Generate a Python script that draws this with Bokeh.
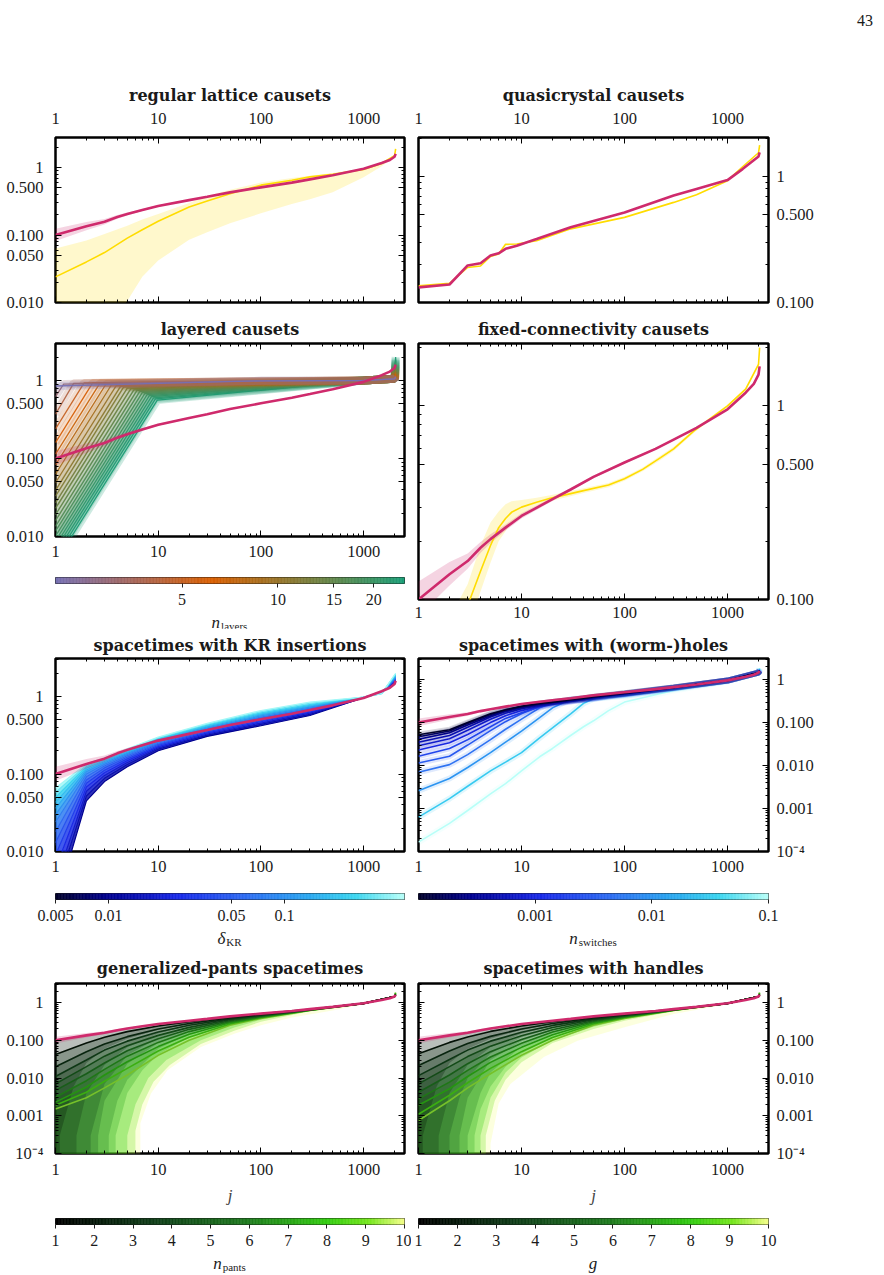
import math
import numpy as np
from bokeh.plotting import figure
from bokeh.models import Range1d, LogAxis, FixedTicker, Div, Spacer
from bokeh.layouts import row, column
from bokeh.embed import file_html
from bokeh.resources import INLINE

FONT = "Liberation Serif"
TITLE_FONT = "DejaVu Serif"
MAGENTA = "#cf2a6c"
YELLOW = "#ffdc00"
TICK_SIZE = "16.5px"

# ---------------------------------------------------------------- axes / ticks
X_RANGE = (1, 2500)
X_MAJOR = [1, 10, 100, 1000]
X_LABELS = ["1", "10", "100", "1000"]
X_MINOR = [2, 3, 4, 5, 6, 7, 8, 9, 20, 30, 40, 50, 60, 70, 80, 90,
           200, 300, 400, 500, 600, 700, 800, 900, 2000]

Y_MAJOR_A = [0.01, 0.05, 0.1, 0.5, 1]
Y_LABELS_A = ["0.010", "0.050", "0.100", "0.500", "1"]
Y_MINOR_A = [0.02, 0.03, 0.04, 0.06, 0.07, 0.08, 0.09, 0.2, 0.3, 0.4,
             0.6, 0.7, 0.8, 0.9, 2, 3]
Y_MAJOR_B = [0.1, 0.5, 1]
Y_LABELS_B = ["0.100", "0.500", "1"]
Y_MINOR_B = [0.2, 0.3, 0.4, 0.6, 0.7, 0.8, 0.9, 2]
Y_MAJOR_C = [1e-4, 1e-3, 1e-2, 0.1, 1]
Y_LABELS_C = ["10\u207b\u2074", "0.001", "0.010", "0.100", "1"]
Y_MINOR_C = [2e-4, 3e-4, 4e-4, 5e-4, 6e-4, 7e-4, 8e-4, 9e-4,
             2e-3, 3e-3, 4e-3, 5e-3, 6e-3, 7e-3, 8e-3, 9e-3,
             0.02, 0.03, 0.04, 0.05, 0.06, 0.07, 0.08, 0.09,
             0.2, 0.3, 0.4, 0.5, 0.6, 0.7, 0.8, 0.9, 2, 3]

# ---------------------------------------------------------------- data
# continuum reference spectrum (mean and spread)
J_REF = [1, 2, 3, 4, 5, 7, 10, 20, 30, 50, 100, 200, 300, 500, 1000, 1500, 1800, 2000, 2050]
REF = [0.1, 0.135, 0.158, 0.185, 0.205, 0.235, 0.27, 0.33, 0.37, 0.43, 0.51, 0.6, 0.67,
       0.77, 0.96, 1.17, 1.3, 1.45, 1.6]
REF_LO = [0.082, 0.118, 0.144, 0.174, 0.195, 0.227, 0.262, 0.323, 0.363, 0.423, 0.503, 0.593,
          0.663, 0.763, 0.953, 1.16, 1.29, 1.44, 1.58]
REF_HI = [0.124, 0.156, 0.173, 0.198, 0.217, 0.244, 0.279, 0.337, 0.377, 0.437, 0.517, 0.607,
          0.677, 0.777, 0.967, 1.18, 1.31, 1.46, 1.62]

# regular lattice causets
J_LAT = [1, 2, 3, 5, 7, 10, 20, 30, 50, 100, 200, 300, 500, 1000, 1500, 2000, 2050]
LAT = [0.024, 0.04, 0.055, 0.09, 0.12, 0.16, 0.26, 0.32, 0.41, 0.55, 0.65, 0.73, 0.80,
       0.94, 1.15, 1.5, 1.9]
LAT_LO = [0.001, 0.002, 0.004, 0.0105, 0.024, 0.042, 0.085, 0.11, 0.15, 0.21, 0.29, 0.34,
          0.43, 0.72, 1.05, 1.45, 1.85]
LAT_HI = [0.063, 0.083, 0.104, 0.138, 0.17, 0.205, 0.3, 0.38, 0.47, 0.6, 0.7, 0.76, 0.83,
          0.97, 1.2, 1.55, 1.95]

# quasicrystal causets
J_QC = [1, 2, 3, 4, 5, 6, 7, 9, 14, 30, 100, 300, 500, 1000, 1400, 2000, 2050]
QC_REF = [0.132, 0.139, 0.197, 0.205, 0.236, 0.246, 0.267, 0.283, 0.32, 0.396, 0.52, 0.71,
          0.8, 0.94, 1.15, 1.45, 1.56]
QC = [0.136, 0.142, 0.19, 0.195, 0.232, 0.243, 0.29, 0.292, 0.31, 0.385, 0.475, 0.625,
      0.72, 0.93, 1.2, 1.55, 1.78]

# layered causets
LAYER_N = [2, 3, 4, 5, 6, 7, 8, 9, 10, 11, 12, 13, 14, 15, 16, 17, 18, 19, 20, 21, 22, 23, 24, 25]
LAYER_START = [0.85, 0.62, 0.37, 0.24, 0.16, 0.114, 0.083, 0.063, 0.049, 0.039, 0.033, 0.027,
               0.023, 0.019, 0.016, 0.0135, 0.0117, 0.0101, 0.0088, 0.0077, 0.0068, 0.006,
               0.0053, 0.0047]
LAYER_KNEE_J = [1.0, 1.2, 1.5, 1.9, 2.3, 2.7, 3.1, 3.5, 3.9, 4.3, 4.6, 5.0, 5.4, 5.8, 6.2,
                6.6, 7.0, 7.4, 7.8, 8.2, 8.6, 9.0, 9.4, 9.8]
LAYER_KNEE_V = [0.85, 0.9, 0.92, 0.93, 0.93, 0.92, 0.9, 0.88, 0.86, 0.84, 0.82, 0.8, 0.78,
                0.76, 0.74, 0.72, 0.7, 0.68, 0.66, 0.64, 0.62, 0.6, 0.58, 0.56]
LAYER_V100 = [0.99, 0.99, 0.98, 0.98, 0.97, 0.97, 0.96, 0.95, 0.94, 0.93, 0.92, 0.91, 0.9,
              0.89, 0.88, 0.87, 0.86, 0.85, 0.84, 0.82, 0.8, 0.78, 0.76, 0.75]
LAYER_END = [1.1, 1.12, 1.14, 1.16, 1.18, 1.2, 1.23, 1.26, 1.29, 1.32, 1.36, 1.4, 1.44, 1.48,
             1.52, 1.56, 1.6, 1.65, 1.7, 1.75, 1.8, 1.85, 1.92, 2.0]

# fixed-connectivity causets
J_FC = [2.5, 3, 4, 5, 6, 7, 8, 10, 14, 19, 40, 70, 100, 150, 224, 300, 470, 700, 1000, 1500,
        2000, 2050]
FC = [0.065, 0.093, 0.14, 0.19, 0.235, 0.262, 0.282, 0.3, 0.318, 0.333, 0.365, 0.39, 0.42,
      0.47, 0.54, 0.6, 0.74, 0.87, 1.0, 1.22, 1.64, 2.0]
FC_LO = [0.045, 0.07, 0.11, 0.155, 0.2, 0.225, 0.25, 0.275, 0.305, 0.322, 0.355, 0.38, 0.41,
         0.46, 0.525, 0.585, 0.725, 0.855, 0.985, 1.2, 1.6, 1.96]
FC_HI = [0.1, 0.12, 0.19, 0.25, 0.285, 0.31, 0.322, 0.327, 0.335, 0.345, 0.375, 0.4, 0.43,
         0.48, 0.555, 0.615, 0.755, 0.885, 1.015, 1.24, 1.68, 2.04]

# spacetimes with KR insertions
KR_DELTA = [0.01, 0.0135, 0.018, 0.024, 0.032, 0.043, 0.057, 0.076, 0.1, 0.135, 0.18, 0.24,
            0.32, 0.43]
J_KR = [1, 2, 3, 5, 10, 30, 100, 300, 1000, 1500, 2050]
KR_CURVES = [
    [0.002, 0.045, 0.08, 0.124, 0.2, 0.306, 0.42, 0.57, 0.97, 1.15, 1.55],
    [0.003, 0.052, 0.088, 0.133, 0.21, 0.318, 0.437, 0.59, 0.97, 1.15, 1.58],
    [0.004, 0.06, 0.096, 0.141, 0.218, 0.329, 0.455, 0.61, 0.97, 1.14, 1.6],
    [0.006, 0.068, 0.104, 0.149, 0.226, 0.34, 0.473, 0.63, 0.97, 1.14, 1.63],
    [0.009, 0.076, 0.112, 0.157, 0.234, 0.351, 0.49, 0.65, 0.975, 1.13, 1.66],
    [0.013, 0.084, 0.12, 0.165, 0.242, 0.362, 0.508, 0.67, 0.975, 1.13, 1.7],
    [0.018, 0.092, 0.127, 0.172, 0.25, 0.373, 0.526, 0.69, 0.975, 1.12, 1.73],
    [0.024, 0.1, 0.134, 0.179, 0.258, 0.384, 0.544, 0.71, 0.98, 1.12, 1.76],
    [0.03, 0.107, 0.14, 0.185, 0.266, 0.395, 0.562, 0.73, 0.98, 1.11, 1.8],
    [0.036, 0.113, 0.145, 0.191, 0.274, 0.406, 0.58, 0.75, 0.98, 1.11, 1.84],
    [0.043, 0.119, 0.15, 0.197, 0.282, 0.417, 0.598, 0.77, 0.98, 1.1, 1.88],
    [0.05, 0.125, 0.154, 0.202, 0.288, 0.428, 0.616, 0.79, 0.985, 1.1, 1.92],
    [0.058, 0.13, 0.158, 0.207, 0.294, 0.439, 0.638, 0.82, 0.985, 1.09, 1.96],
    [0.066, 0.135, 0.162, 0.212, 0.3, 0.45, 0.66, 0.85, 0.985, 1.09, 2.0],
]

# spacetimes with (worm-)holes
SWITCHES = [0.0001, 0.0002, 0.0003, 0.0005, 0.0007, 0.001, 0.002, 0.003, 0.005, 0.01, 0.03, 0.1]
J_WH = [1, 2, 3, 5, 7, 10, 15, 20, 30, 40, 50, 70, 100, 300, 1000, 2000, 2050]
WH_CURVES = [
    [0.052, 0.068, 0.1, 0.16, 0.2, 0.24, 0.28, 0.3, 0.34, 0.37, 0.4, 0.44, 0.48, 0.66, 0.95, 1.45, 1.6],
    [0.047, 0.064, 0.095, 0.155, 0.195, 0.235, 0.275, 0.3, 0.335, 0.365, 0.395, 0.435, 0.48, 0.66, 0.95, 1.45, 1.6],
    [0.041, 0.058, 0.088, 0.145, 0.19, 0.23, 0.27, 0.295, 0.33, 0.36, 0.39, 0.43, 0.475, 0.66, 0.95, 1.45, 1.6],
    [0.035, 0.05, 0.078, 0.135, 0.18, 0.22, 0.26, 0.29, 0.325, 0.355, 0.385, 0.425, 0.47, 0.655, 0.95, 1.45, 1.6],
    [0.029, 0.042, 0.066, 0.12, 0.165, 0.21, 0.255, 0.285, 0.32, 0.35, 0.38, 0.42, 0.47, 0.65, 0.95, 1.45, 1.62],
    [0.023, 0.034, 0.053, 0.1, 0.145, 0.19, 0.24, 0.275, 0.315, 0.345, 0.375, 0.42, 0.465, 0.65, 0.95, 1.45, 1.62],
    [0.0165, 0.025, 0.04, 0.08, 0.125, 0.17, 0.23, 0.265, 0.31, 0.34, 0.37, 0.415, 0.46, 0.645, 0.95, 1.45, 1.65],
    [0.0115, 0.0165, 0.03, 0.065, 0.105, 0.16, 0.24, 0.29, 0.32, 0.34, 0.365, 0.41, 0.455, 0.64, 0.95, 1.45, 1.65],
    [0.007, 0.0105, 0.018, 0.04, 0.07, 0.12, 0.22, 0.29, 0.33, 0.345, 0.36, 0.405, 0.45, 0.635, 0.95, 1.45, 1.7],
    [0.0026, 0.005, 0.009, 0.02, 0.035, 0.063, 0.13, 0.22, 0.35, 0.37, 0.385, 0.41, 0.44, 0.62, 0.94, 1.45, 1.75],
    [0.00063, 0.0017, 0.0033, 0.0075, 0.012, 0.02, 0.044, 0.075, 0.16, 0.28, 0.36, 0.39, 0.42, 0.6, 0.93, 1.45, 1.8],
    [0.000165, 0.00045, 0.0009, 0.0022, 0.0038, 0.0075, 0.016, 0.025, 0.05, 0.08, 0.11, 0.19, 0.3, 0.56, 0.92, 1.45, 1.85],
]

# generalized-pants spacetimes and spacetimes with handles
J_TOP = [1, 2, 3, 5, 10, 20, 50, 100, 300, 1000, 2000, 2050]
N_PANTS = [2, 3, 4, 5, 6, 7, 8, 9, 10]
PANTS_CURVES = [
    [0.042, 0.085, 0.12, 0.17, 0.24, 0.31, 0.41, 0.5, 0.66, 0.95, 1.45, 1.6],
    [0.020, 0.05, 0.08, 0.125, 0.2, 0.28, 0.39, 0.48, 0.655, 0.95, 1.45, 1.6],
    [0.011, 0.03, 0.055, 0.095, 0.165, 0.25, 0.37, 0.47, 0.65, 0.95, 1.45, 1.6],
    [0.007, 0.02, 0.038, 0.072, 0.135, 0.22, 0.35, 0.45, 0.645, 0.95, 1.45, 1.62],
    [0.0047, 0.013, 0.025, 0.053, 0.11, 0.195, 0.33, 0.44, 0.64, 0.945, 1.45, 1.64],
    [0.0031, 0.0085, 0.017, 0.038, 0.088, 0.17, 0.31, 0.42, 0.635, 0.945, 1.45, 1.68],
    [0.0023, 0.0058, 0.012, 0.027, 0.068, 0.145, 0.29, 0.41, 0.63, 0.94, 1.45, 1.72],
    [0.0019, 0.0042, 0.0082, 0.018, 0.052, 0.12, 0.27, 0.395, 0.625, 0.94, 1.45, 1.78],
    [0.0015, 0.003, 0.0055, 0.012, 0.04, 0.1, 0.25, 0.38, 0.62, 0.94, 1.45, 1.85],
]
PANTS_LO_J = [
    [1, 1.1, 1.1, 1.5, 2, 3, 5, 10, 20, 50, 100, 300, 1000, 2050],
    [1, 1.6, 1.6, 2, 3, 5, 10, 20, 50, 100, 300, 1000, 2050],
    [1, 2.2, 2.2, 3, 5, 10, 20, 50, 100, 300, 1000, 2050],
    [1, 2.6, 2.6, 3, 5, 10, 20, 50, 100, 300, 1000, 2050],
    [1, 3.3, 3.3, 4, 5, 10, 20, 50, 100, 300, 1000, 2050],
    [1, 3.85, 3.85, 5, 7, 10, 20, 50, 100, 300, 1000, 2050],
    [1, 5, 5, 6, 8, 12, 26, 55, 100, 300, 1000, 2050],
    [1, 6, 6, 7, 9, 13, 26, 55, 100, 300, 1000, 2050],
    [1, 6.7, 6.7, 8.5, 12.3, 26, 55, 100, 200, 500, 1000, 2050],
]
PANTS_LO_V = [
    [1e-6, 1e-6, 3e-4, 0.006, 0.025, 0.06, 0.11, 0.19, 0.27, 0.38, 0.47, 0.645, 0.94, 1.55],
    [1e-6, 1e-6, 3e-4, 0.004, 0.022, 0.065, 0.15, 0.24, 0.36, 0.46, 0.64, 0.94, 1.55],
    [1e-6, 1e-6, 3e-4, 0.007, 0.04, 0.115, 0.21, 0.34, 0.45, 0.635, 0.94, 1.55],
    [1e-6, 1e-6, 3e-4, 0.0025, 0.024, 0.085, 0.18, 0.32, 0.43, 0.63, 0.94, 1.55],
    [1e-6, 1e-6, 3e-4, 0.0025, 0.009, 0.06, 0.15, 0.29, 0.41, 0.625, 0.935, 1.55],
    [1e-6, 1e-6, 3e-4, 0.004, 0.016, 0.042, 0.12, 0.26, 0.39, 0.62, 0.935, 1.55],
    [1e-6, 1e-6, 3e-4, 0.002, 0.01, 0.03, 0.1, 0.22, 0.35, 0.6, 0.93, 1.55],
    [1e-6, 1e-6, 4e-4, 0.002, 0.008, 0.022, 0.08, 0.18, 0.31, 0.59, 0.93, 1.55],
    [1e-6, 1e-6, 6.3e-4, 0.0039, 0.016, 0.066, 0.15, 0.25, 0.4, 0.62, 0.9, 1.55],
]

N_HANDLES = [2, 3, 4, 5, 6, 7, 8, 9, 10]
HANDLE_CURVES = [
    [0.044, 0.088, 0.122, 0.172, 0.24, 0.31, 0.41, 0.5, 0.66, 0.95, 1.45, 1.6],
    [0.0215, 0.052, 0.082, 0.127, 0.2, 0.28, 0.39, 0.48, 0.655, 0.95, 1.45, 1.6],
    [0.0116, 0.031, 0.055, 0.095, 0.163, 0.248, 0.37, 0.47, 0.65, 0.95, 1.45, 1.6],
    [0.007, 0.02, 0.037, 0.07, 0.132, 0.218, 0.35, 0.45, 0.645, 0.95, 1.45, 1.62],
    [0.0042, 0.012, 0.024, 0.05, 0.105, 0.19, 0.33, 0.44, 0.64, 0.945, 1.45, 1.64],
    [0.0028, 0.0078, 0.016, 0.036, 0.083, 0.165, 0.31, 0.42, 0.635, 0.945, 1.45, 1.68],
    [0.0019, 0.0052, 0.011, 0.026, 0.065, 0.14, 0.29, 0.41, 0.63, 0.94, 1.45, 1.72],
    [0.0011, 0.0035, 0.0075, 0.018, 0.05, 0.118, 0.27, 0.395, 0.625, 0.94, 1.45, 1.78],
    [0.00075, 0.0025, 0.0055, 0.013, 0.04, 0.1, 0.25, 0.38, 0.62, 0.94, 1.45, 1.85],
]
HANDLE_LO_J = [
    [1, 1.1, 1.1, 1.5, 2, 3, 5, 10, 20, 50, 100, 300, 1000, 2050],
    [1, 1.57, 1.57, 2, 3, 5, 10, 20, 50, 100, 300, 1000, 2050],
    [1, 2, 2, 2.5, 3, 5, 10, 20, 50, 100, 300, 1000, 2050],
    [1, 2.5, 2.5, 3, 5, 10, 20, 50, 100, 300, 1000, 2050],
    [1, 3, 3, 4, 5, 10, 20, 50, 100, 300, 1000, 2050],
    [1, 3.5, 3.5, 4, 5, 7, 10, 20, 50, 100, 300, 1000, 2050],
    [1, 4, 4, 5, 7, 10, 20, 50, 100, 300, 1000, 2050],
    [1, 4.5, 4.5, 5.5, 7, 10, 20, 50, 100, 300, 1000, 2050],
    [1, 5, 5, 6, 7.8, 16.5, 35, 98, 300, 1000, 2050],
]
HANDLE_LO_V = [
    [1e-6, 1e-6, 3e-4, 0.006, 0.025, 0.06, 0.11, 0.19, 0.27, 0.38, 0.47, 0.645, 0.94, 1.55],
    [1e-6, 1e-6, 3e-4, 0.004, 0.022, 0.065, 0.15, 0.24, 0.36, 0.46, 0.64, 0.94, 1.55],
    [1e-6, 1e-6, 3e-4, 0.003, 0.01, 0.045, 0.12, 0.21, 0.34, 0.45, 0.635, 0.94, 1.55],
    [1e-6, 1e-6, 3e-4, 0.003, 0.03, 0.095, 0.18, 0.32, 0.43, 0.63, 0.94, 1.55],
    [1e-6, 1e-6, 3e-4, 0.004, 0.014, 0.07, 0.15, 0.29, 0.41, 0.625, 0.935, 1.55],
    [1e-6, 1e-6, 3e-4, 0.0015, 0.006, 0.02, 0.045, 0.12, 0.26, 0.39, 0.62, 0.935, 1.55],
    [1e-6, 1e-6, 3e-4, 0.003, 0.014, 0.035, 0.1, 0.23, 0.36, 0.6, 0.93, 1.55],
    [1e-6, 1e-6, 3e-4, 0.0025, 0.009, 0.026, 0.085, 0.2, 0.33, 0.59, 0.93, 1.55],
    [1e-6, 1e-6, 1.8e-4, 0.0021, 0.007, 0.036, 0.098, 0.22, 0.5, 0.9, 1.55],
]

# ---------------------------------------------------------------- colour maps
LAYER_STOPS = [(0.0, "#7570b3"), (0.45, "#d95f02"), (1.0, "#1b9e77")]
BLUE_STOPS = [(0.0, "#00002a"), (0.15, "#00008f"), (0.35, "#1a2ae8"), (0.55, "#2f6ef2"),
              (0.72, "#2aa6f0"), (0.86, "#3cd6f0"), (1.0, "#b8fff8")]
GREEN_STOPS = [(0.0, "#000000"), (0.3, "#11421a"), (0.55, "#1f7a1f"), (0.78, "#33cc11"),
               (0.9, "#77e61e"), (1.0, "#f4ff88")]


def _rgb(h):
    return tuple(int(h[i:i + 2], 16) for i in (1, 3, 5))


def cmap(stops, t, shade=1.0):
    t = min(max(t, 0.0), 1.0)
    for (t0, c0), (t1, c1) in zip(stops[:-1], stops[1:]):
        if t <= t1:
            f = (t - t0) / (t1 - t0) if t1 > t0 else 0.0
            a, b = _rgb(c0), _rgb(c1)
            return "#%02x%02x%02x" % tuple(
                round((a[i] + (b[i] - a[i]) * f) * shade) for i in range(3))
    return stops[-1][1]


def log_pos(v, lo, hi):
    return math.log(v / lo) / math.log(hi / lo)


# ---------------------------------------------------------------- helpers
def style_axis(ax, standoff):
    ax.axis_line_color = None
    ax.major_tick_in = 6
    ax.major_tick_out = 0
    ax.minor_tick_in = 3
    ax.minor_tick_out = 0
    ax.major_tick_line_color = "black"
    ax.minor_tick_line_color = "black"
    ax.major_tick_line_width = 1
    ax.minor_tick_line_width = 1
    ax.major_label_text_font = FONT
    ax.major_label_text_color = "#1a1a1a"
    ax.major_label_text_font_size = TICK_SIZE
    ax.major_label_standoff = standoff


def mirror_ticks(p, side, major, minor):
    # unlabelled tick marks on the opposite frame edges: one axis carries the
    # short marks, a second one the long marks (both as label-free minor ticks)
    for ticks, length in ((minor, 3), (major, 6)):
        ax = LogAxis(ticker=FixedTicker(ticks=[], minor_ticks=ticks))
        ax.axis_line_color = None
        ax.major_tick_in = 0
        ax.major_tick_out = 0
        ax.minor_tick_in = length
        ax.minor_tick_out = 0
        ax.minor_tick_line_color = "black"
        ax.major_label_standoff = 0
        p.add_layout(ax, side)


def make_panel(title, y_rng, y_major, y_labels, y_minor, left_col, frame_h, top, bottom,
               labels_above, xlabel=None, title_standoff=9, x_standoff=10):
    p = figure(frame_width=349 if left_col else 350, frame_height=frame_h,
               x_axis_type="log", y_axis_type="log",
               x_range=Range1d(*X_RANGE), y_range=Range1d(*y_rng),
               x_axis_location="above" if labels_above else "below",
               y_axis_location="left" if left_col else "right",
               min_border_left=55 if left_col else 7,
               min_border_right=7 if left_col else 116,
               min_border_top=top, min_border_bottom=bottom,
               toolbar_location=None, output_backend="svg")
    p.grid.visible = False
    p.outline_line_color = "black"
    p.outline_line_width = 2.5
    p.background_fill_color = "white"
    p.border_fill_color = "white"
    p.title.text = title
    p.title.text_font = TITLE_FONT
    p.title.text_font_style = "bold"
    p.title.text_font_size = "16px"
    p.title.align = "center"
    p.title.standoff = title_standoff
    p.title.text_color = "#1a1a1a"

    xa = p.xaxis[0]
    xa.ticker = FixedTicker(ticks=X_MAJOR, minor_ticks=X_MINOR)
    xa.major_label_overrides = dict(zip(X_MAJOR, X_LABELS))
    style_axis(xa, x_standoff)
    if xlabel:
        xa.axis_label = xlabel
        xa.axis_label_text_font = FONT
        xa.axis_label_text_font_style = "italic"
        xa.axis_label_text_font_size = "17px"
        xa.axis_label_standoff = 8
    ya = p.yaxis[0]
    ya.ticker = FixedTicker(ticks=y_major, minor_ticks=y_minor)
    ya.major_label_overrides = dict(zip(y_major, y_labels))
    style_axis(ya, 12 if left_col else 8)

    mirror_ticks(p, "below" if labels_above else "above", X_MAJOR, X_MINOR)
    mirror_ticks(p, "right" if left_col else "left", y_major, y_minor)
    return p


def colorbar(lo, hi, log, stops, ticks, labels, left_col, top, bottom):
    p = figure(frame_width=349 if left_col else 350, frame_height=6,
               x_axis_type="log" if log else "linear", x_range=Range1d(lo, hi),
               y_range=Range1d(0, 1), y_axis_location=None,
               min_border_left=55 if left_col else 7,
               min_border_right=7 if left_col else 116,
               min_border_top=top, min_border_bottom=bottom,
               toolbar_location=None, output_backend="svg")
    p.grid.visible = False
    p.outline_line_color = "#222222"
    p.outline_line_width = 1
    n = 240
    edges = np.geomspace(lo, hi, n + 1) if log else np.linspace(lo, hi, n + 1)
    cols = [cmap(stops, (i + 0.5) / n) for i in range(n)]
    p.quad(left=edges[:-1], right=edges[1:], bottom=0, top=1, fill_color=cols,
           line_color=cols, line_width=0.6)
    ax = p.xaxis[0]
    ax.ticker = FixedTicker(ticks=ticks, minor_ticks=[])
    ax.major_label_overrides = dict(zip(ticks, labels))
    ax.axis_line_color = None
    ax.major_tick_in = 0
    ax.major_tick_out = 4
    ax.minor_tick_in = 0
    ax.minor_tick_out = 0
    ax.major_tick_line_color = "#222222"
    ax.major_label_text_font = FONT
    ax.major_label_text_font_size = "16px"
    ax.major_label_text_color = "#1a1a1a"
    ax.major_label_standoff = 6
    return p


def cb_title(html, left_col, height, shift):
    fw = 349 if left_col else 350
    ml = 55 if left_col else 7
    return Div(text=(f'<div style="width:{fw}px;margin-left:{ml}px;margin-top:{shift}px;'
                     f'text-align:center;font-family:\'Liberation Serif\';font-size:17px;'
                     f'line-height:14px;color:#1a1a1a;white-space:nowrap">{html}</div>'),
               width=411 if left_col else 473, height=height, margin=0)


def sym(main, sub=None):
    s = f'<i>{main}</i>'
    if sub:
        s += (f'<span style="font-size:11px;position:relative;top:2px;'
              f'margin-left:1px">{sub}</span>')
    return s


def draw_reference(p):
    p.varea(x=J_REF, y1=REF_LO, y2=REF_HI, fill_color=MAGENTA, fill_alpha=0.2)
    p.line(J_REF, REF, line_color=MAGENTA, line_width=2.6)


# ---------------------------------------------------------------- row 1
p1 = make_panel("regular lattice causets", (0.01, 2.8), Y_MAJOR_A, Y_LABELS_A, Y_MINOR_A,
                True, 165, 77, 10, True, title_standoff=9, x_standoff=14)
p1.varea(x=J_LAT, y1=LAT_LO, y2=LAT_HI, fill_color=YELLOW, fill_alpha=0.2)
p1.varea(x=J_REF, y1=REF_LO, y2=REF_HI, fill_color=MAGENTA, fill_alpha=0.2)
p1.line(J_LAT, LAT, line_color=YELLOW, line_width=1.6)
p1.line(J_REF, REF, line_color=MAGENTA, line_width=2.6)

p2 = make_panel("quasicrystal causets", (0.1, 2.05), Y_MAJOR_B, Y_LABELS_B, Y_MINOR_B,
                False, 165, 77, 10, True, title_standoff=9, x_standoff=14)
p2.line(J_QC, QC, line_color=YELLOW, line_width=1.6)
p2.line(J_QC, QC_REF, line_color=MAGENTA, line_width=2.6)

# ---------------------------------------------------------------- row 2
p3 = make_panel("layered causets", (0.01, 2.98), Y_MAJOR_A, Y_LABELS_A, Y_MINOR_A,
                True, 193, 31, 31, False, title_standoff=9, x_standoff=9)
for k in reversed(range(len(LAYER_N))):
    c = cmap(LAYER_STOPS, log_pos(LAYER_N[k], 2, 25))
    xs = [1, LAYER_KNEE_J[k], 100, 1000, 2000, 2050]
    ys = [LAYER_START[k], LAYER_KNEE_V[k], LAYER_V100[k], 1.0, 1.05, LAYER_END[k]]
    p3.line(xs, ys, line_color=c, line_width=8, line_alpha=0.22)
    p3.line(xs, ys, line_color=c, line_width=1.3, line_alpha=0.95)
draw_reference(p3)
cb3 = colorbar(2, 25, True, LAYER_STOPS, [5, 10, 15, 20], ["5", "10", "15", "20"], True, 10, 33)
lb3 = cb_title(sym("n", "layers"), True, 12, -8)

p4 = make_panel("fixed-connectivity causets", (0.1, 2.1), Y_MAJOR_B, Y_LABELS_B, Y_MINOR_B,
                False, 256, 31, 29, False, title_standoff=9, x_standoff=7)
p4.varea(x=J_FC, y1=FC_LO, y2=FC_HI, fill_color=YELLOW, fill_alpha=0.2)
p4.varea(x=J_REF, y1=REF_LO, y2=REF_HI, fill_color=MAGENTA, fill_alpha=0.2)
p4.line(J_FC, FC, line_color=YELLOW, line_width=1.6)
p4.line(J_REF, REF, line_color=MAGENTA, line_width=2.6)

# ---------------------------------------------------------------- row 3
p5 = make_panel("spacetimes with KR insertions", (0.01, 3.1), Y_MAJOR_A, Y_LABELS_A, Y_MINOR_A,
                True, 193, 30, 31, False, title_standoff=8, x_standoff=9)
kr_cols = [cmap(BLUE_STOPS, log_pos(d, 0.005, 0.48)) for d in KR_DELTA]
for k in range(len(KR_CURVES) - 1):
    p5.varea(x=J_KR, y1=KR_CURVES[k], y2=KR_CURVES[k + 1], fill_color=kr_cols[k + 1],
             fill_alpha=0.85)
for k in range(len(KR_CURVES)):
    p5.line(J_KR, KR_CURVES[k], line_color=kr_cols[k], line_width=1.2)
draw_reference(p5)
cb5 = colorbar(0.005, 0.48, True, BLUE_STOPS, [0.005, 0.01, 0.05, 0.1],
               ["0.005", "0.01", "0.05", "0.1"], True, 11, 33)
lb5 = cb_title(sym("\u03b4", "KR"), True, 18, 0)

p6 = make_panel("spacetimes with (worm-)holes", (1e-4, 3.1), Y_MAJOR_C, Y_LABELS_C, Y_MINOR_C,
                False, 193, 30, 31, False, title_standoff=8, x_standoff=9)
for k in reversed(range(len(WH_CURVES))):
    c = cmap(BLUE_STOPS, log_pos(SWITCHES[k], 1e-4, 0.1))
    p6.line(J_WH, WH_CURVES[k], line_color=c, line_width=6, line_alpha=0.15)
    p6.line(J_WH, WH_CURVES[k], line_color=c, line_width=1.6)
draw_reference(p6)
cb6 = colorbar(1e-4, 0.1, True, BLUE_STOPS, [0.001, 0.01, 0.1], ["0.001", "0.01", "0.1"],
               False, 11, 33)
lb6 = cb_title(sym("n", "switches"), False, 18, 0)


# ---------------------------------------------------------------- row 4
def draw_family(p, params, curves, lo_j, lo_v):
    fills = [cmap(GREEN_STOPS, (n - 1) / 9) for n in params]
    lines = [cmap(GREEN_STOPS, 0.92 * (n - 1) / 9, 0.82) for n in params]
    for k in reversed(range(len(params))):
        up_j = J_REF if k == 0 else J_TOP
        up_v = REF if k == 0 else curves[k - 1]
        xs = list(up_j) + list(reversed(lo_j[k]))
        ys = list(up_v) + list(reversed(lo_v[k]))
        p.patch(xs, ys, fill_color=fills[k], fill_alpha=0.28, line_color=None)
    for k in reversed(range(len(params))):
        p.line(J_TOP, curves[k], line_color=lines[k], line_width=1.6)
    draw_reference(p)


p7 = make_panel("generalized-pants spacetimes", (1e-4, 3.2), Y_MAJOR_C, Y_LABELS_C, Y_MINOR_C,
                True, 170, 33, 60, False, xlabel="j", title_standoff=11)
draw_family(p7, N_PANTS, PANTS_CURVES, PANTS_LO_J, PANTS_LO_V)
ticks10 = [1, 2, 3, 4, 5, 6, 7, 8, 9, 10]
cb7 = colorbar(1, 10, False, GREEN_STOPS, ticks10, [str(t) for t in ticks10], True, 5, 33)
lb7 = cb_title(sym("n", "pants"), True, 18, -8)

p8 = make_panel("spacetimes with handles", (1e-4, 3.2), Y_MAJOR_C, Y_LABELS_C, Y_MINOR_C,
                False, 170, 33, 60, False, xlabel="j", title_standoff=11)
draw_family(p8, N_HANDLES, HANDLE_CURVES, HANDLE_LO_J, HANDLE_LO_V)
cb8 = colorbar(1, 10, False, GREEN_STOPS, ticks10, [str(t) for t in ticks10], False, 5, 33)
lb8 = cb_title(sym("g"), False, 18, -8)

# ---------------------------------------------------------------- page
page_no = Div(text='<div style="margin-top:10px;font-family:\'Liberation Serif\';'
                   'font-size:16px;color:#1a1a1a">43</div>',
              width=27, height=60, margin=0)

layout = column(
    row(Spacer(width=857, height=60, margin=0), page_no),
    row(p1, p2),
    row(column(p3, cb3, lb3), p4),
    row(column(p5, cb5, lb5), column(p6, cb6, lb6)),
    row(column(p7, cb7, lb7), column(p8, cb8, lb8)),
)

open("out.html", "w").write(file_html(layout, INLINE))
